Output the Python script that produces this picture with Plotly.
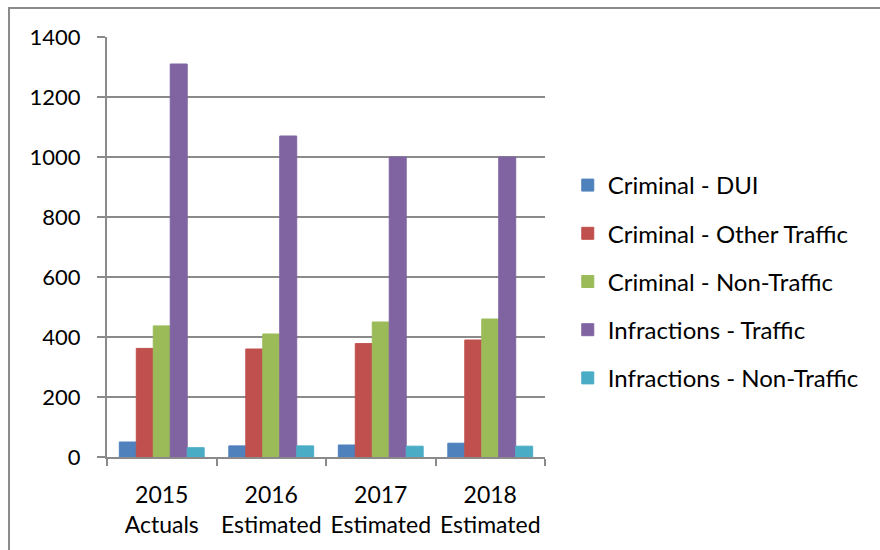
import plotly.graph_objects as go

# Caseload by year and filing type
years = ["2015<br>Actuals", "2016<br>Estimated", "2017<br>Estimated", "2018<br>Estimated"]
series_names = [
    "Criminal - DUI",
    "Criminal - Other Traffic",
    "Criminal - Non-Traffic",
    "Infractions - Traffic",
    "Infractions - Non-Traffic",
]
criminal_dui = [50, 37, 40, 46]
criminal_other_traffic = [362, 360, 378, 390]
criminal_non_traffic = [437, 410, 450, 460]
infractions_traffic = [1310, 1070, 1000, 1000]
infractions_non_traffic = [31, 37, 36, 36]
y_ticks = [0, 200, 400, 600, 800, 1000, 1200, 1400]

series_values = [
    criminal_dui,
    criminal_other_traffic,
    criminal_non_traffic,
    infractions_traffic,
    infractions_non_traffic,
]
colors = ["#4F81BD", "#C0504D", "#9BBB59", "#8064A2", "#4BACC6"]

FONT = "Lato"
GRID = "#8a8a8a"

fig = go.Figure()
for i, (name, vals, col) in enumerate(zip(series_names, series_values, colors)):
    fig.add_trace(go.Bar(
        x=years, y=vals, name=name,
        marker=dict(color=col, line=dict(color=col, width=1)),
        legendgroup=f"g{i}",
    ))

fig.update_layout(
    width=880, height=550,
    margin=dict(l=107, r=335, t=37, b=93),
    paper_bgcolor="white", plot_bgcolor="white",
    barmode="group", bargap=0.225, bargroupgap=0,
    font=dict(family=FONT, size=22, color="black"),
    showlegend=True,
    legend=dict(
        x=1.052, xanchor="left", y=0.7, yanchor="top",
        traceorder="grouped", tracegroupgap=14,
        font=dict(family=FONT, size=24, color="black"),
        bgcolor="rgba(0,0,0,0)",
    ),
    xaxis=dict(
        type="category",
        showline=True, linecolor=GRID, linewidth=2,
        ticks="outside", tickson="boundaries", ticklen=7,
        tickcolor=GRID, tickwidth=2,
        ticklabelstandoff=16, tickangle=0, automargin=False,
        showgrid=False,
        tickfont=dict(family=FONT, size=23),
    ),
    yaxis=dict(
        range=[0, 1400], tickvals=y_ticks,
        showline=True, linecolor=GRID, linewidth=2,
        ticks="outside", ticklen=8, tickcolor=GRID, tickwidth=2,
        ticklabelstandoff=12, automargin=False,
        showgrid=True, gridcolor=GRID, gridwidth=1.5,
        zeroline=False,
        tickfont=dict(family=FONT, size=22),
    ),
    shapes=[dict(
        type="rect", xref="paper", yref="paper",
        x0=-0.2237, x1=3, y0=-0.6, y1=1.069,
        line=dict(color=GRID, width=2), layer="below",
    )],
)

fig.write_html("out.html")
